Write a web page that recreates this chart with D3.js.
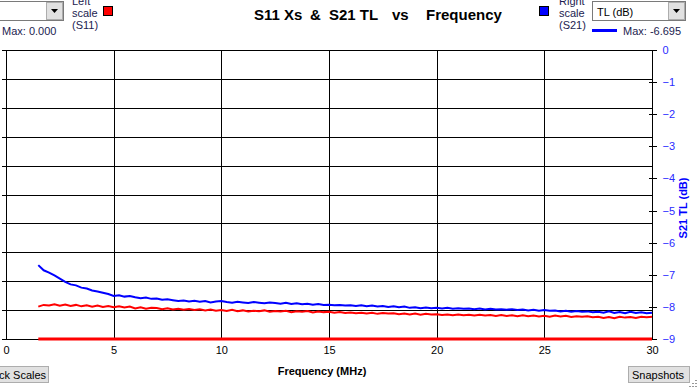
<!DOCTYPE html>
<html><head><meta charset="utf-8">
<script src="https://cdn.jsdelivr.net/npm/d3@7"></script>
<style>
html,body{margin:0;padding:0;background:#fff;overflow:hidden}
svg{display:block;font-family:"Liberation Sans",Arial,sans-serif}
</style></head>
<body><svg id="c" width="698" height="387"></svg>
<script>
// ---- data ----
const freq = [1.5,1.75,
 2,2.25,2.5,2.75, 3,3.25,3.5,3.75, 4,4.25,4.5,4.75, 5,5.25,5.5,5.75,
 6,6.25,6.5,6.75, 7,7.25,7.5,7.75, 8,8.25,8.5,8.75, 9,9.25,9.5,9.75,
 10,10.25,10.5,10.75, 11,11.25,11.5,11.75, 12,12.25,12.5,12.75, 13,13.25,13.5,13.75,
 14,14.25,14.5,14.75, 15,15.25,15.5,15.75, 16,16.25,16.5,16.75, 17,17.25,17.5,17.75,
 18,18.25,18.5,18.75, 19,19.25,19.5,19.75, 20,20.25,20.5,20.75, 21,21.25,21.5,21.75,
 22,22.25,22.5,22.75, 23,23.25,23.5,23.75, 24,24.25,24.5,24.75, 25,25.25,25.5,25.75,
 26,26.25,26.5,26.75, 27,27.25,27.5,27.75, 28,28.25,28.5,28.75, 29,29.25,29.5,29.75,
 30];
// S21 TL (dB), right scale
const s21TL = [-6.70,-6.86,
 -6.93,-7.02,-7.12,-7.22, -7.30,-7.33,-7.40,-7.43, -7.49,-7.52,-7.56,-7.60, -7.66,-7.64,-7.68,-7.66,
 -7.70,-7.73,-7.71,-7.75, -7.74,-7.78,-7.76,-7.79, -7.82,-7.80,-7.83,-7.81, -7.84,-7.82,-7.86,-7.83,
 -7.82,-7.85,-7.87,-7.84, -7.86,-7.88,-7.85,-7.87, -7.89,-7.86,-7.88,-7.90, -7.87,-7.91,-7.89,-7.92,
 -7.90,-7.93,-7.91,-7.94, -7.93,-7.95,-7.94,-7.96, -7.95,-7.97,-7.95,-7.98, -7.96,-7.99,-7.97,-8.00,
 -7.98,-8.01,-7.99,-8.03, -8.01,-8.04,-8.02,-8.04, -8.03,-8.05,-8.03,-8.06, -8.04,-8.06,-8.05,-8.07,
 -8.05,-8.08,-8.06,-8.08, -8.07,-8.09,-8.07,-8.10, -8.08,-8.11,-8.09,-8.12, -8.10,-8.12,-8.11,-8.14,
 -8.12,-8.15,-8.13,-8.15, -8.14,-8.17,-8.15,-8.18, -8.14,-8.19,-8.16,-8.20, -8.15,-8.19,-8.17,-8.20,
 -8.18];
// S11 trace (left scale units)
const s11Trace = [1.12,1.18,
 1.16,1.20,1.15,1.19, 1.14,1.18,1.13,1.17, 1.12,1.16,1.11,1.14, 1.10,1.13,1.09,1.12,
 1.06,1.10,1.05,1.08, 1.07,1.03,1.06,1.02, 1.05,1.01,1.04,1.00, 1.03,0.99,1.02,0.98,
 1.00,0.97,1.01,0.96, 0.99,0.95,0.98,0.96, 0.99,0.94,0.97,0.95, 0.98,0.93,0.96,0.94,
 0.97,0.92,0.95,0.93, 0.94,0.91,0.93,0.90, 0.92,0.89,0.91,0.88, 0.91,0.87,0.90,0.88,
 0.89,0.86,0.88,0.85, 0.88,0.84,0.87,0.85, 0.86,0.83,0.85,0.82, 0.85,0.82,0.84,0.81,
 0.84,0.81,0.83,0.80, 0.83,0.80,0.82,0.79, 0.82,0.79,0.81,0.78, 0.80,0.77,0.81,0.78,
 0.80,0.76,0.79,0.77, 0.79,0.75,0.77,0.73, 0.76,0.72,0.77,0.74, 0.76,0.73,0.77,0.75,
 0.77];
// S11 Xs (left scale) – flat at zero
const s11XsFreq = [1.5, 30];
const s11XsValues = [0, 0];

const xTicks = [0,5,10,15,20,25,30];
const leftTicks = [0,1,2,3,4,5,6,7,8,9,10];
const rightTicks = [0,-1,-2,-3,-4,-5,-6,-7,-8,-9];

// ---- layout ----
const svg = d3.select("#c");
const L = 6, R = 652, T = 50, B = 339;
const x = d3.scaleLinear().domain([0,30]).range([L,R]);
const yL = d3.scaleLinear().domain([0,10]).range([B,T]);
const yR = d3.scaleLinear().domain([-9,0]).range([B,T]);

// grid
const g = svg.append("g").attr("shape-rendering","crispEdges");
g.selectAll(".vg").data(xTicks).join("line")
  .attr("x1",d=>Math.round(x(d))+0.5).attr("x2",d=>Math.round(x(d))+0.5)
  .attr("y1",T).attr("y2",B).attr("stroke","#000");
g.selectAll(".hg").data(leftTicks).join("line")
  .attr("x1",2).attr("x2",R).attr("y1",d=>Math.round(yL(d))+0.5).attr("y2",d=>Math.round(yL(d))+0.5)
  .attr("stroke","#000");

// right axis
const ra = svg.append("g").attr("transform",`translate(${Math.round(R)+0.5},0)`)
  .call(d3.axisRight(yR).tickValues(rightTicks).tickSize(4).tickFormat(d3.format("d")));
ra.select(".domain").remove();
ra.selectAll(".tick line").attr("x1",-4).attr("x2",4).attr("stroke","#000").attr("shape-rendering","crispEdges");
ra.selectAll(".tick text").attr("x",10).attr("fill","#2a2aff").attr("font-size",11)
  .attr("font-family","Liberation Sans, Arial, sans-serif");

// x axis labels
const xa = svg.append("g").attr("transform",`translate(0,${B})`)
  .call(d3.axisBottom(x).tickValues(xTicks).tickSize(0).tickPadding(7).tickFormat(d3.format("d")));
xa.select(".domain").remove();
xa.selectAll(".tick text").attr("fill","#000").attr("font-size",11)
  .attr("font-family","Liberation Sans, Arial, sans-serif");

// lines
const lineR = d3.line().x((d,i)=>x(freq[i])).y(d=>yR(d));
const lineL = d3.line().x((d,i)=>x(freq[i])).y(d=>yL(d));
svg.append("path").datum(s11XsValues)
  .attr("d", d3.line().x((d,i)=>x(s11XsFreq[i])).y(d=>yL(d)))
  .attr("fill","none").attr("stroke","#ff0000").attr("stroke-width",3);
svg.append("path").datum(s11Trace).attr("d",lineL)
  .attr("fill","none").attr("stroke","#ff0000").attr("stroke-width",2);
svg.append("path").datum(s21TL).attr("d",lineR)
  .attr("fill","none").attr("stroke","#0000ff").attr("stroke-width",2);

// axis titles
svg.append("text").attr("x",322).attr("y",375).attr("text-anchor","middle")
  .attr("font-size",11).attr("font-weight","bold").text("Frequency (MHz)");
svg.append("text").attr("transform","translate(687,208) rotate(-90)").attr("text-anchor","middle")
  .attr("font-size",11).attr("font-weight","bold").attr("fill","#0000ff").text("S21 TL (dB)");

// title
const tt = svg.append("g").attr("font-size",15).attr("font-weight","bold").attr("fill","#000");
[["S11 Xs",254],["&",310],["S21 TL",329],["vs",392],["Frequency",426]].forEach(([t,px])=>{
  tt.append("text").attr("x",px).attr("y",20).text(t);
});

// left controls
const ui = svg.append("g").attr("font-size",11);
ui.append("rect").attr("x",-2.5).attr("y",1.5).attr("width",66).attr("height",19)
  .attr("fill","#fff").attr("stroke","#7a7a7a");
ui.append("rect").attr("x",46.5).attr("y",2.5).attr("width",16).attr("height",17)
  .attr("fill","#e1e1e1").attr("stroke","#adadad");
ui.append("path").attr("d","M51,9 L58,9 L54.5,13 Z").attr("fill","#000");
ui.append("text").attr("x",2).attr("y",35).attr("fill","#1c1c50").text("Max: 0.000");
[["Left",5],["scale",17],["(S11)",29]].forEach(([t,py])=>{
  ui.append("text").attr("x",72).attr("y",py).attr("fill","#1c1c50").text(t);
});
ui.append("rect").attr("x",103.5).attr("y",6.5).attr("width",9).attr("height",9)
  .attr("fill","#ff0000").attr("stroke","#000");

// right controls
ui.append("rect").attr("x",539.5).attr("y",6.5).attr("width",9).attr("height",9)
  .attr("fill","#0000ff").attr("stroke","#000");
[["Right",5],["scale",17],["(S21)",29]].forEach(([t,py])=>{
  ui.append("text").attr("x",559).attr("y",py).attr("fill","#1c1c50").text(t);
});
ui.append("rect").attr("x",592.5).attr("y",1.5).attr("width",93).attr("height",19)
  .attr("fill","#fff").attr("stroke","#7a7a7a");
ui.append("rect").attr("x",668.5).attr("y",2.5).attr("width",16).attr("height",17)
  .attr("fill","#e1e1e1").attr("stroke","#adadad");
ui.append("path").attr("d","M673,9 L680,9 L676.5,13 Z").attr("fill","#000");
ui.append("text").attr("x",597).attr("y",16).attr("fill","#000").text("TL (dB)");
ui.append("line").attr("x1",592).attr("x2",617).attr("y1",30.5).attr("y2",30.5)
  .attr("stroke","#0000ff").attr("stroke-width",3);
ui.append("text").attr("x",623).attr("y",35).attr("fill","#1c1c50").text("Max: -6.695");

// bottom buttons
ui.append("rect").attr("x",-10.5).attr("y",366.5).attr("width",59).attr("height",16)
  .attr("fill","#e1e1e1").attr("stroke","#adadad");
ui.append("text").attr("x",-1).attr("y",379).attr("fill","#000").text("ck Scales");
ui.append("rect").attr("x",628.5).attr("y",366.5).attr("width",61).attr("height",16)
  .attr("fill","#e1e1e1").attr("stroke","#adadad");
ui.append("text").attr("x",632).attr("y",379).attr("fill","#000").text("Snapshots");
// resize grip
[[695,380],[692,383],[695,383],[689,386],[692,386],[695,386]].forEach(([gx,gy])=>{
  ui.append("rect").attr("x",gx).attr("y",gy).attr("width",2).attr("height",1).attr("fill","#999");
});
</script></body></html>
